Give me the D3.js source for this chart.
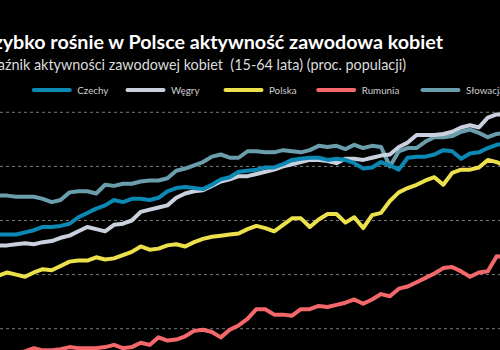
<!DOCTYPE html>
<html lang="pl">
<head>
<meta charset="utf-8">
<script src="https://cdn.jsdelivr.net/npm/d3@7"></script>
<style>
  html, body { margin: 0; padding: 0; background: #000; overflow: hidden; }
  svg { display: block; font-family: Lato, "Noto Sans", sans-serif; }
</style>
</head>
<body>
<svg id="chart" width="500" height="350"></svg>
<script>
// Quarterly female activity rate (15-64), % of population
const startYear = 2009, startQuarter = 4, nPoints = 58;
const quarters = [];
for (let i = 0; i < nPoints; i++) {
  const q = startQuarter - 1 + i;
  quarters.push(`${startYear + Math.floor(q / 4)} Q${(q % 4) + 1}`);
}

const czechy = [58.7,58.7,58.7,58.9,59.1,59.4,59.4,59.5,59.7,60.3,60.7,61.1,61.4,61.9,61.7,62.0,62.0,61.9,62.1,62.7,
  63.0,63.1,63.0,62.9,63.3,63.8,64.0,64.5,64.6,64.7,64.9,64.9,65.2,65.6,65.7,65.8,65.8,65.6,65.7,65.6,
  65.3,64.8,64.9,65.4,65.1,64.7,65.8,65.9,65.9,66.1,66.5,66.4,65.7,66.2,66.3,66.7,67.0,67.1];
const wegry = [57.7,57.7,57.8,57.9,57.8,58.0,58.1,58.4,58.6,59.0,59.4,59.2,59.0,59.6,59.7,60.0,60.8,61.0,61.2,61.4,
  62.1,62.5,62.7,62.8,63.2,63.6,63.8,64.1,64.1,64.3,64.5,64.7,65.0,65.2,65.4,65.6,65.6,65.5,65.3,65.7,
  65.7,65.6,65.8,66.0,66.1,66.8,67.2,67.9,67.9,67.9,68.0,68.2,68.6,68.8,68.6,69.5,69.8,69.8];
const polska = [54.9,55.2,55.0,54.8,55.2,55.5,55.4,55.8,56.2,56.3,56.3,56.6,56.4,56.5,56.8,57.1,57.6,57.3,57.4,57.7,
  57.8,57.6,58.0,58.3,58.5,58.6,58.7,58.8,59.2,59.5,59.3,59.0,59.6,60.2,60.2,59.4,60.1,60.6,60.6,59.8,
  60.3,59.3,60.5,60.7,61.8,62.6,63.0,63.3,63.7,64.0,63.3,64.4,64.7,64.7,64.9,65.6,65.4,65.0];
const rumunia = [47.7,47.8,47.8,47.9,48.2,48.0,48.0,48.1,48.3,48.2,48.2,48.2,48.3,48.5,48.2,48.3,48.7,48.5,49.2,48.9,
  49.0,49.3,49.8,49.9,49.7,49.2,49.9,50.3,50.9,51.8,51.8,51.3,51.3,51.2,51.8,51.8,52.1,52.0,52.2,52.4,
  52.7,52.3,52.7,53.2,53.0,53.7,53.9,54.3,54.7,55.1,55.6,55.7,55.3,54.8,55.2,55.3,56.7,56.6];
const slowacja = [62.3,62.3,62.2,62.2,62.2,62.0,61.7,61.9,62.6,62.7,62.7,62.5,63.3,63.2,63.4,63.4,63.6,63.7,63.7,63.9,
  64.6,64.8,65.1,65.4,65.9,66.1,65.8,65.8,66.4,66.4,66.3,66.3,66.5,66.4,66.3,66.5,66.9,66.8,66.9,66.6,
  67.0,66.7,66.9,66.8,65.0,66.4,66.7,66.7,67.3,67.7,67.7,67.8,68.2,68.4,68.1,67.7,68.0,68.1];

const seriesNames = ["Czechy", "Węgry", "Polska", "Rumunia", "Słowacja"];
const seriesValues = [czechy, wegry, polska, rumunia, slowacja];
const seriesColors = ["#0b88b3", "#c9d0de", "#ece04b", "#f4676a", "#6b9eac"];
const gridTicks = [50, 55, 60, 65, 70];

const titleText = "Szybko rośnie w Polsce aktywność zawodowa kobiet";
const subtitleText = "Wskaźnik aktywności zawodowej kobiet  (15-64 lata) (proc. populacji)";

const svg = d3.select("#chart");
const W = 500;

const x = d3.scalePoint().domain(quarters).range([-1.7, 505.6]);
const y = d3.scaleLinear().domain([50, 70]).range([328.7, 112.3]);

// Title and subtitle
svg.append("text")
  .attr("x", 443).attr("y", 48.5)
  .attr("text-anchor", "end")
  .attr("fill", "#ffffff")
  .attr("font-size", 19.7).attr("font-weight", 700)
  .text(titleText);

svg.append("text")
  .attr("x", 406).attr("y", 70)
  .attr("text-anchor", "end")
  .attr("fill", "#dcdcdc")
  .attr("font-size", 14.4)
  .style("white-space", "pre")
  .text(subtitleText);

// Legend
const legendX = [32.3, 126, 224, 316.7, 421];
const legend = svg.append("g");
seriesNames.forEach((name, i) => {
  const g = legend.append("g").attr("transform", `translate(${legendX[i]},90)`);
  g.append("line")
    .attr("x1", 1.5).attr("x2", 37.5).attr("y1", 0).attr("y2", 0)
    .attr("stroke", seriesColors[i]).attr("stroke-width", 4)
    .attr("stroke-linecap", "round");
  g.append("text")
    .attr("x", 45).attr("y", 3.6)
    .attr("fill", "#cfcfcf").attr("font-size", 9.8)
    .text(name);
});

// Horizontal grid
svg.append("g")
  .selectAll("line")
  .data(gridTicks)
  .join("line")
  .attr("x1", 0).attr("x2", W)
  .attr("y1", d => y(d)).attr("y2", d => y(d))
  .attr("stroke", "#7a7a7a").attr("stroke-width", 1)
  .attr("stroke-dasharray", "3,3");

// Series lines (first legend entry drawn on top)
const line = d3.line()
  .x((d, i) => x(quarters[i]))
  .y(d => y(d));

const order = d3.range(seriesNames.length).reverse();
svg.append("g")
  .selectAll("path")
  .data(order)
  .join("path")
  .attr("d", i => line(seriesValues[i]))
  .attr("fill", "none")
  .attr("stroke", i => seriesColors[i])
  .attr("stroke-width", 4)
  .attr("stroke-linejoin", "round")
  .attr("stroke-linecap", "round");
</script>
</body>
</html>
